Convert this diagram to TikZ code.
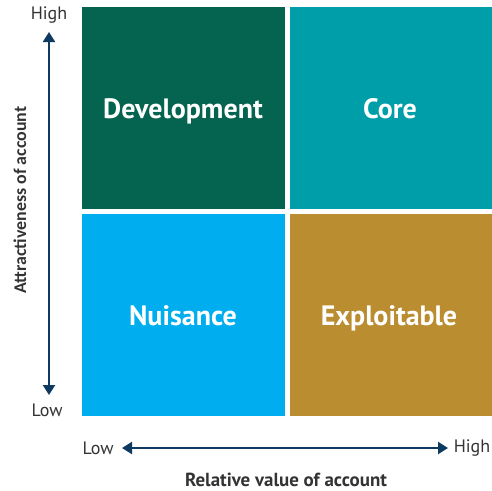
\documentclass[tikz,border=0pt]{standalone}
\usepackage{fontspec}
\setmainfont{PT Sans}
\newfontfamily\calfont{Carlito}
\usetikzlibrary{arrows.meta}
\definecolor{cgreen}{HTML}{046450}
\definecolor{cteal}{HTML}{009EA8}
\definecolor{cblue}{HTML}{00ADEE}
\definecolor{cgold}{HTML}{B98D30}
\definecolor{cnavy}{HTML}{0E3A62}
\definecolor{ctext}{HTML}{333333}
\begin{document}
\begin{tikzpicture}[x=0.75pt,y=-0.75pt,
  quad/.style={draw=none,inner sep=0pt,anchor=north west,minimum width=203*0.75pt,minimum height=202.5*0.75pt},
  qlbl/.style={inner sep=0pt,anchor=base,text=white,font=\bfseries\fontsize{21}{24}\selectfont},
  axlbl/.style={text=ctext,inner sep=0pt,font=\fontsize{13.5}{15}\selectfont},
  axtitle/.style={text=ctext,inner sep=0pt,font=\bfseries\fontsize{14.2}{16}\selectfont},
  vtitlestyle/.style={text=ctext,inner sep=0pt,font=\calfont\bfseries\fontsize{13.4}{15}\selectfont},
  axarrow/.style={draw=cnavy,line width=1.6pt,{Triangle[width=9pt,length=7.5pt]}-{Triangle[width=9pt,length=7.5pt]}}]
\useasboundingbox (0,0) rectangle (492,490);
\node[quad,fill=cgreen] (dev) at (82,6.7) {};
\node[quad,fill=cteal] (core) at (289.5,6.7) {};
\node[quad,fill=cblue] (nui) at (82,213.5) {};
\node[quad,fill=cgold] (exp) at (289.5,213.5) {};
\node[qlbl] (devl) at (183,118) {Development};
\node[qlbl] (corel) at (390,118) {Core};
\node[qlbl] (nuil) at (183,325) {Nuisance};
\node[qlbl] (expl) at (389,325) {Exploitable};
\node[axlbl] (vhigh) at (49,15) {High};
\node[axlbl] (vlow) at (47,410) {Low};
\node[axlbl] (hlow) at (98,448) {Low};
\node[axlbl] (hhigh) at (472,448) {High};
\node[axtitle] (htitle) at (286,480) {Relative value of account};
\node[vtitlestyle,rotate=90] (vtitle) at (20,200) {Attractiveness of account};
\coordinate (vtop) at (49,32);
\coordinate (vbot) at (49,395);
\coordinate (hleft) at (122,448);
\coordinate (hright) at (448,448);
\draw[axarrow] (vtop) -- (vbot);
\draw[axarrow] (hleft) -- (hright);
\end{tikzpicture}
\end{document}
